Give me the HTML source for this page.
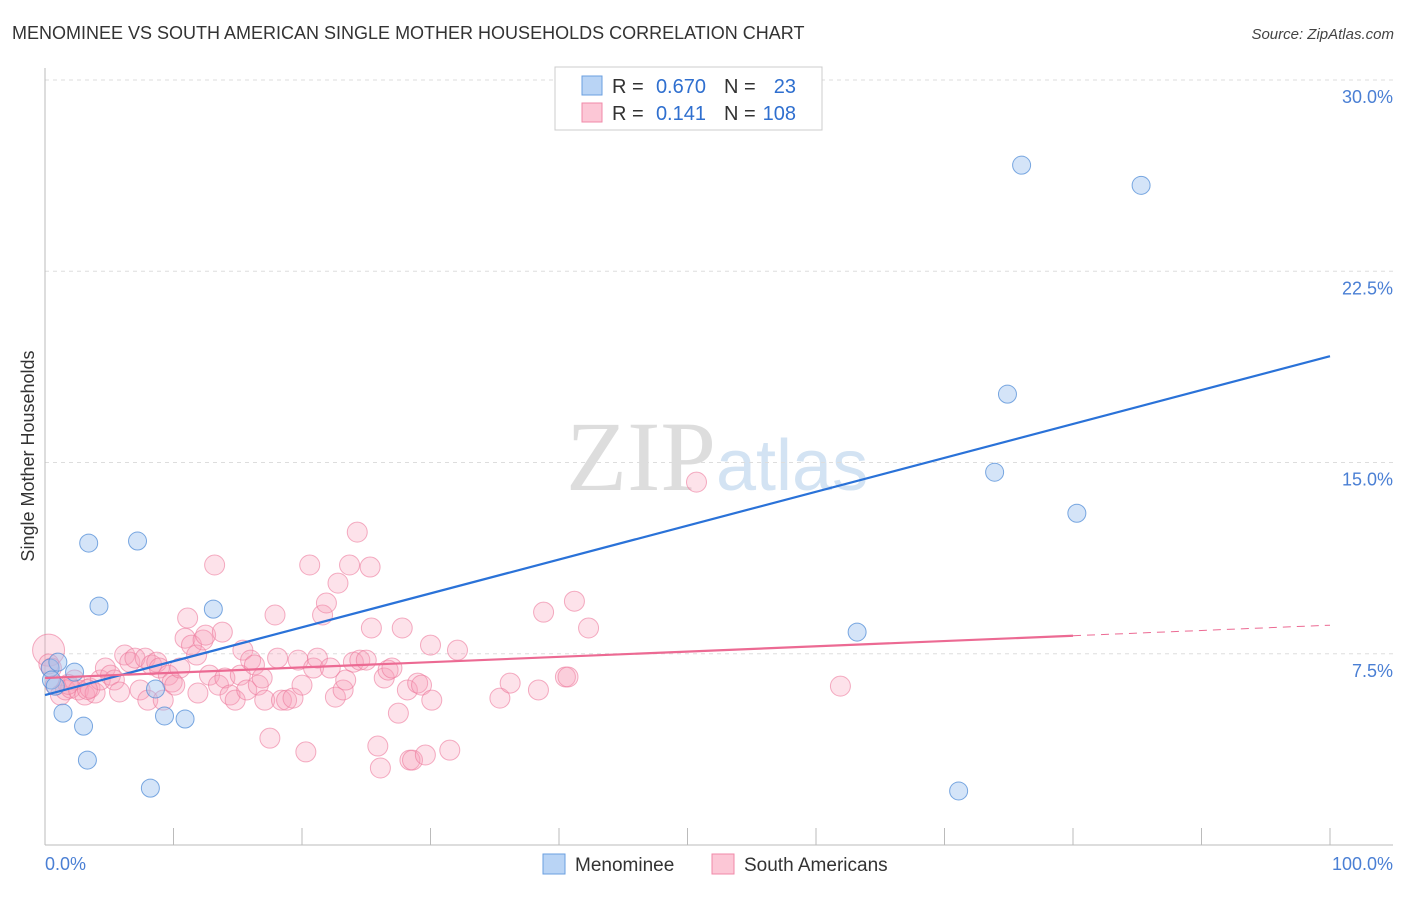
<!DOCTYPE html>
<html><head><meta charset="utf-8"><style>
body{margin:0;background:#fff;font-family:"Liberation Sans",sans-serif;}
</style></head><body>
<svg width="1406" height="892" xmlns="http://www.w3.org/2000/svg" id="chart">
<text x="12" y="39" font-size="18" fill="#333">MENOMINEE VS SOUTH AMERICAN SINGLE MOTHER HOUSEHOLDS CORRELATION CHART</text>
<text x="1394" y="39" font-size="15" fill="#444" text-anchor="end" font-style="italic">Source: ZipAtlas.com</text>
<text x="716" y="490" font-size="100" fill="#ddd" text-anchor="end" font-family="Liberation Serif">ZIP</text>
<text x="716" y="490" font-size="72" fill="#d3e3f3">atlas</text>
<text transform="translate(34,456) rotate(-90)" font-size="18" fill="#333" text-anchor="middle">Single Mother Households</text>
<g id="grid"></g><g id="pts"></g><g id="lines"></g>
<g>
<rect x="555" y="67" width="267" height="63" fill="#fff" stroke="#ccc"/>
<rect x="582" y="76" width="20" height="19" fill="#b9d4f5" stroke="#6a9fe0"/>
<rect x="582" y="103" width="20" height="19" fill="#fcc7d6" stroke="#f08aa8"/>
<text x="612" y="93" font-size="20" fill="#333">R =</text>
<text x="706" y="93" font-size="20" fill="#2f6fcf" text-anchor="end">0.670</text>
<text x="724" y="93" font-size="20" fill="#333">N =</text>
<text x="796" y="93" font-size="20" fill="#2f6fcf" text-anchor="end">23</text>
<text x="612" y="120" font-size="20" fill="#333">R =</text>
<text x="706" y="120" font-size="20" fill="#2f6fcf" text-anchor="end">0.141</text>
<text x="724" y="120" font-size="20" fill="#333">N =</text>
<text x="796" y="120" font-size="20" fill="#2f6fcf" text-anchor="end">108</text>
</g>
<g>
<rect x="543" y="854" width="22" height="20" fill="#b9d4f5" stroke="#6a9fe0"/>
<text x="575" y="871" font-size="19" fill="#333">Menominee</text>
<rect x="712" y="854" width="22" height="20" fill="#fcc7d6" stroke="#f08aa8"/>
<text x="744" y="871" font-size="19" fill="#333">South Americans</text>
</g>
<text x="45" y="870" font-size="18" fill="#4a7fd4">0.0%</text>
<text x="1393" y="870" font-size="18" fill="#4a7fd4" text-anchor="end">100.0%</text>
</svg>
<script>
const yTicks=[7.5,15,22.5,30];
const xTicks=[0,10,20,30,40,50,60,70,80,90,100];
const blueX=[0.4,0.5,0.8,1.0,1.4,2.3,3.0,3.3,3.4,4.2,7.2,8.2,8.6,9.3,10.9,13.1,63.2,71.1,73.9,74.9,76.0,80.3,85.3];
const blueY=[6.94,6.47,6.23,7.17,5.17,6.78,4.66,3.33,11.84,9.37,11.92,2.23,6.12,5.06,4.94,9.25,8.35,2.12,14.62,17.68,26.66,13.01,25.87];
const pinkX=[0.2,0.5,0.8,1.2,1.6,2.0,2.3,2.6,3.1,3.5,3.9,4.3,4.7,5.1,5.4,5.8,6.2,6.6,7.0,7.4,7.8,8.0,8.3,8.7,8.9,9.2,9.6,9.9,10.1,10.5,10.9,11.1,11.4,11.8,11.9,12.3,12.5,12.8,13.2,13.5,13.8,14.0,14.4,14.8,15.2,15.4,15.7,16.0,16.3,16.6,16.9,17.1,17.5,17.9,18.1,18.4,18.8,19.3,19.7,20.0,20.3,20.6,20.9,21.2,21.6,21.9,22.2,22.6,22.8,23.2,23.4,23.7,24.0,24.3,24.5,25.0,25.3,25.4,25.9,26.1,26.4,26.7,27.0,27.5,27.8,28.2,28.4,28.6,29.0,29.3,29.6,30.0,30.1,31.5,32.1,35.4,36.2,38.4,38.8,40.5,40.7,41.2,42.3,50.7,61.9,0.3,1.8,3.3];
const pinkY=[7.64,6.94,6.27,5.88,6.08,6.15,6.47,6.08,5.88,6.15,5.96,6.47,6.94,6.66,6.47,6.00,7.45,7.17,7.33,6.08,7.33,5.68,7.06,7.17,6.94,5.68,6.66,6.39,6.27,6.94,8.11,8.90,7.84,7.45,5.96,8.04,8.23,6.66,10.98,6.27,8.35,6.55,5.88,5.68,6.66,7.64,6.08,7.25,7.06,6.27,6.55,5.68,4.19,9.02,7.33,5.68,5.68,5.76,7.25,6.27,3.65,10.98,6.94,7.33,9.02,9.49,6.94,5.80,10.27,6.08,6.47,10.98,7.17,12.27,7.25,7.25,10.90,8.51,3.88,3.02,6.55,6.86,6.94,5.17,8.51,6.08,3.33,3.33,6.35,6.27,3.53,7.84,5.68,3.72,7.64,5.76,6.35,6.08,9.13,6.59,6.59,9.56,8.51,14.23,6.23,7.1,6.3,6.1];
const blueFit=[5.88,19.17];
const pinkFit=[6.55,8.62];
const pinkSolidEnd=80;
const X0=45,X1=1330,Y0=845,PX=(Y0-80)/30;
const sx=v=>X0+(X1-X0)*v/100, sy=v=>Y0-v*PX;
const NS="http://www.w3.org/2000/svg";
function mk(t,a,p){const e=document.createElementNS(NS,t);for(const k in a)e.setAttribute(k,a[k]);p.appendChild(e);return e;}
const g=document.getElementById('grid');
for(const t of yTicks){
 const l=mk('line',{x1:X0,x2:1393,y1:sy(t),y2:sy(t),stroke:'#ddd','stroke-dasharray':'4,4'},g);
 
 
 const tx=mk('text',{x:1393,y:sy(t)+23,'font-size':18,fill:'#4a7fd4','text-anchor':'end'},g);
 tx.textContent=t.toFixed(1)+'%';
 
 
}
const ax=mk('line',{x1:X0,x2:1393,y1:Y0,y2:Y0,stroke:'#bbb'},g);


const ay=mk('line',{x1:X0,x2:X0,y1:68,y2:Y0,stroke:'#bbb'},g);


for(const t of xTicks){
 const l=mk('line',{x1:sx(t),x2:sx(t),y1:828,y2:Y0,stroke:'#bbb'},g);
 
 
}
const p=document.getElementById('pts');
pinkX.forEach((x,i)=>{
 const c=mk('circle',{cx:sx(x)+(i===0?1:0),cy:sy(pinkY[i]),r:i===0?16:10,fill:'rgba(247,160,186,0.3)',stroke:'rgba(236,120,155,0.6)','stroke-width':1},p);
 
 
});
blueX.forEach((x,i)=>{
 const c=mk('circle',{cx:sx(x),cy:sy(blueY[i]),r:9,fill:'rgba(160,196,240,0.45)',stroke:'rgba(80,140,215,0.75)','stroke-width':1},p);
 
 
});
const L=document.getElementById('lines');
const b=mk('line',{x1:sx(0),y1:sy(blueFit[0]),x2:sx(100),y2:sy(blueFit[1]),stroke:'#2a72d8','stroke-width':2.2},L);


const pf=v=>pinkFit[0]+(pinkFit[1]-pinkFit[0])*v/100;
const pl=mk('line',{x1:sx(0),y1:sy(pf(0)),x2:sx(pinkSolidEnd),y2:sy(pf(pinkSolidEnd)),stroke:'#ec6a93','stroke-width':2.2},L);


const pd=mk('line',{x1:sx(pinkSolidEnd),y1:sy(pf(pinkSolidEnd)),x2:sx(100),y2:sy(pf(100)),stroke:'#ec6a93','stroke-width':1,'stroke-dasharray':'8,6'},L);


</script>
</body></html>
